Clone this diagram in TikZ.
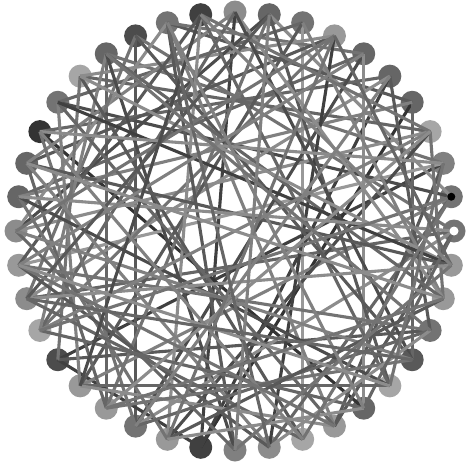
\documentclass[tikz,border=0pt]{standalone}
\begin{document}
\begin{tikzpicture}[x=1pt,y=-1pt,
  vtx/.style={circle,inner sep=0pt,minimum size=23pt,draw=none},
  edge/.style={line width=3.1pt}]
\useasboundingbox (0,0) rectangle (466,466);
\fill[white] (0,0) rectangle (466,466);
\foreach \k/\g in {0/55,1/55,2/50,3/35,4/60,5/60,6/60,7/40,8/55,9/60,
  10/45,11/75,12/55,13/70,14/60,15/35,16/55,17/80,18/60,19/60,
  20/45,21/40,22/45,23/35,24/70,25/40,26/40,27/55,28/40,29/75,
  30/50,31/45,32/35,33/40,34/60,35/35,36/65,37/55,38/40,39/40}
  \node[vtx,fill=black!\g] (n\k) at ({235+219*cos(9*\k)},{231-219*sin(9*\k)}) {};
\foreach \a/\b/\p in {24/2/75,29/4/80,29/5/75,29/10/75,17/34/80,14/26/60,13/27/65,8/32/40,
  19/6/60,4/36/60,24/29/75,24/37/65,
  0/13/55,0/22/60,0/27/45,0/33/65,1/16/70,1/25/50,1/31/60,1/9/45,
  2/14/55,2/21/40,2/33/65,3/15/60,3/20/45,3/28/70,3/38/55,4/12/65,4/19/50,
  5/17/60,5/22/45,5/37/65,6/12/55,6/27/70,6/34/45,7/18/65,7/23/55,7/31/75,7/15/45,
  8/16/60,8/25/65,8/38/50,9/20/70,9/26/55,9/35/65,10/18/50,10/23/60,10/38/45,10/36/70,
  11/21/65,11/28/45,11/35/60,11/3/55,12/20/45,12/30/65,12/33/50,13/22/55,13/36/65,
  14/23/50,14/30/70,14/38/60,15/24/55,15/32/65,15/39/45,16/25/50,16/33/60,16/39/75,
  17/27/55,17/2/45,18/26/60,18/31/50,18/39/65,19/28/55,19/35/70,19/0/45,
  20/30/60,20/36/50,20/7/55,21/31/65,21/37/55,21/6/50,22/32/60,22/39/45,22/9/65,
  23/34/60,23/3/50,23/1/55,25/35/60,25/33/45,25/11/70,26/36/55,26/3/45,
  27/37/60,27/5/50,28/38/65,28/7/55,28/34/45,30/39/55,30/9/50,31/37/45,31/12/60,
  32/1/55,32/17/50,33/21/55,34/0/60,34/12/50,35/2/55,35/21/45,36/22/60,37/14/55,
  38/18/45,38/26/55,39/7/60,39/11/50}
  \draw[edge,draw=black!\p] (n\a.center) -- (n\b.center);
\fill[black] (n1.center) circle (4pt);
\fill[white] (n0.center) circle (4.5pt);
\end{tikzpicture}
\end{document}
